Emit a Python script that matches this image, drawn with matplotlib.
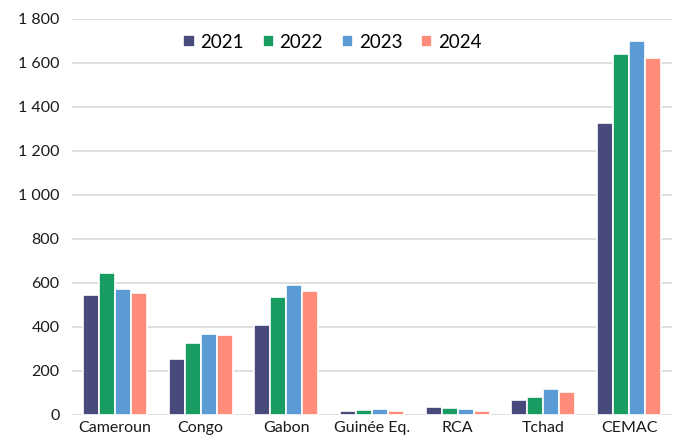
import matplotlib
matplotlib.use("Agg")
import matplotlib.pyplot as plt
import numpy as np

categories = ["Cameroun", "Congo", "Gabon", "Guinée Eq.", "RCA", "Tchad", "CEMAC"]
years = ["2021", "2022", "2023", "2024"]
v2021 = [544, 254, 408, 18, 35, 68, 1327]
v2022 = [644, 327, 535, 23, 30, 80, 1642]
v2023 = [571, 367, 590, 27, 27, 118, 1698]
v2024 = [553, 363, 562, 18, 18, 104, 1624]
colors = ["#474a7a", "#179c62", "#5b9bd5", "#ff8b7b"]

plt.rcParams["font.family"] = ["Lato", "DejaVu Sans"]

fig = plt.figure(figsize=(6.77, 4.43), dpi=100)
ax = fig.add_axes([72 / 677, 28 / 443, 600 / 677, 396 / 443])

x = np.arange(len(categories))
w = 0.187
series = [v2021, v2022, v2023, v2024]
for i, (vals, yr, c) in enumerate(zip(series, years, colors)):
    ax.bar(x + (i - 1.5) * w, vals, width=w, color=c, edgecolor="white",
           linewidth=1.2, label=yr, zorder=3)

ax.set_xlim(-0.5, len(categories) - 0.5)
ax.set_ylim(0, 1800)
ax.set_yticks(np.arange(0, 1801, 200))
ax.set_yticklabels([f"{v:,}".replace(",", " ") for v in range(0, 1801, 200)])
ax.set_xticks(x)
ax.set_xticklabels(categories)
ax.grid(axis="y", color="#d9d9d9", linewidth=1.2, zorder=0)
for s in ax.spines.values():
    s.set_visible(False)
ax.tick_params(length=0, labelsize=11.5, colors="#1a1a1a")
ax.tick_params(axis="y", pad=9)
ax.tick_params(axis="x", pad=4)

ax.legend(loc="upper center", bbox_to_anchor=(0.434, 1.005), ncol=4, frameon=False,
          fontsize=13.5, handlelength=0.6, handleheight=0.6, handletextpad=0.3,
          columnspacing=1.0)

fig.savefig("out.png", dpi=100)
